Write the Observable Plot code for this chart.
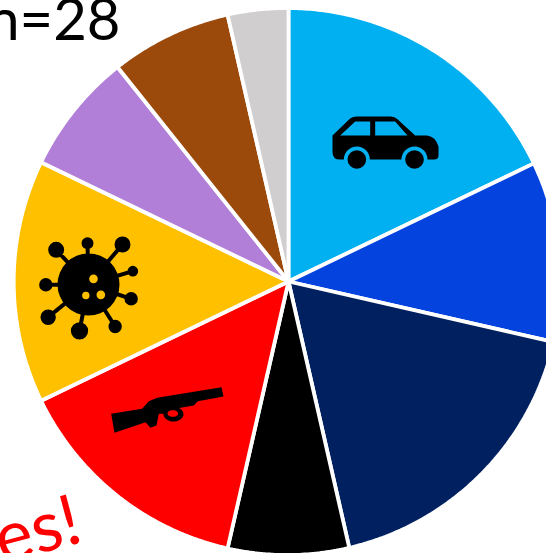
<!DOCTYPE html>
<html>
<head>
<meta charset="utf-8">
<script src="https://cdn.jsdelivr.net/npm/d3@7"></script>
<script src="https://cdn.jsdelivr.net/npm/@observablehq/plot@0.6"></script>
<style>
  html, body { margin: 0; padding: 0; background: #fff; overflow: hidden; }
  svg { display: block; }
</style>
</head>
<body>
<div id="chart"></div>
<script>
// Cases per category, clockwise from twelve o'clock (n = 28)
const categories = ["Vehicle", "Blue", "Navy", "Black", "Firearm", "Virus", "Purple", "Brown", "Gray"];
const counts = [5, 3, 5, 2, 4, 4, 2, 2, 1];
const colors = ["#00B0F0", "#0443DE", "#002060", "#000000", "#FF0000", "#FFC000", "#B17FD8", "#9C4A0B", "#D0CECE"];
const totalLabel = "n=28";
const noteLabel = "es!";

const W = 546, H = 553;
const CX = 288, CY = 281, R = 273.5, SHIFT = 1.3;

// Slice outlines: sampled arc plus the pie centre, one closed polygon per category.
// The rim sits slightly left of the hub, so the radius varies a little with the angle.
const arcs = d3.pie().sort(null).value((d, i) => counts[i])(categories);
const outline = arcs.flatMap((a) => {
  const steps = Math.max(2, Math.ceil((a.endAngle - a.startAngle) / 0.01));
  const rim = d3.range(steps + 1).map((i) => {
    const t = a.startAngle + (a.endAngle - a.startAngle) * i / steps;
    const r = R - SHIFT * Math.sin(t);
    return {category: a.data, x: CX + r * Math.sin(t), y: CY - r * Math.cos(t)};
  });
  return [{category: a.data, x: CX, y: CY}, ...rim];
});

// Glyphs are authored on a 3x grid around their own origin
const glyph = (ox, oy, fn) => ({
  draw(ctx) {
    const X = (v) => (v - ox) / 3, Y = (v) => (v - oy) / 3;
    fn({
      poly(pts) {
        pts.forEach(([x, y], i) => (i ? ctx.lineTo(X(x), Y(y)) : ctx.moveTo(X(x), Y(y))));
        ctx.closePath();
      },
      disc(x, y, r) {
        ctx.moveTo(X(x) + r / 3, Y(y));
        ctx.arc(X(x), Y(y), r / 3, 0, 2 * Math.PI);
        ctx.closePath();
      },
      oval(x, y, rx, ry) {
        d3.range(40).forEach((i) => {
          const t = i / 40 * 2 * Math.PI;
          const px = X(x + rx * Math.cos(t)), py = Y(y + ry * Math.sin(t));
          i ? ctx.lineTo(px, py) : ctx.moveTo(px, py);
        });
        ctx.closePath();
      },
      raw: ctx, X, Y
    });
  }
});

const carBody = glyph(256, 150, ({raw: c, X, Y}) => {
  c.moveTo(X(97), Y(135));
  c.lineTo(X(150), Y(84));
  c.quadraticCurveTo(X(158), Y(78), X(170), Y(78));
  c.lineTo(X(272), Y(78));
  c.quadraticCurveTo(X(284), Y(78), X(292), Y(86));
  c.lineTo(X(345), Y(135));
  c.lineTo(X(380), Y(135));
  c.quadraticCurveTo(X(405), Y(137), X(415), Y(168));
  c.lineTo(X(415), Y(195));
  c.quadraticCurveTo(X(415), Y(207), X(402), Y(207));
  c.lineTo(X(120), Y(207));
  c.quadraticCurveTo(X(97), Y(207), X(97), Y(185));
  c.closePath();
});
const carCut = glyph(256, 150, ({poly, disc}) => {
  poly([[120, 135], [165, 93], [210, 93], [210, 135]]);
  poly([[225, 93], [285, 93], [322, 135], [225, 135]]);
  disc(170, 207, 39);
  disc(343, 207, 39);
});
const carWheels = glyph(256, 150, ({disc}) => {
  disc(170, 207, 28);
  disc(343, 207, 28);
});

const hub = [205, 192];
const knobs = [[108, 88, 24], [202, 68, 18], [307, 72, 24], [338, 152, 16], [333, 235, 20],
               [285, 318, 20], [178, 331, 26], [84, 290, 23], [77, 193, 20]];
const virusBody = glyph(205, 192, ({poly, disc}) => {
  disc(hub[0], hub[1], 93);
  knobs.forEach(([x, y, r]) => {
    const len = Math.hypot(x - hub[0], y - hub[1]);
    const nx = (y - hub[1]) / len * 6, ny = -(x - hub[0]) / len * 6;
    poly([[hub[0] + nx, hub[1] + ny], [x + nx, y + ny], [x - nx, y - ny], [hub[0] - nx, hub[1] - ny]]);
    disc(x, y, r);
  });
});
const virusHoles = glyph(205, 192, ({disc}) => {
  disc(220, 175, 13);
  disc(197, 225, 11);
  disc(242, 223, 13);
});

const gunBody = glyph(225, 120, ({poly, oval}) => {
  poly([[62, 130], [155, 115], [175, 92], [200, 82], [393, 50], [399, 78], [322, 92], [310, 105],
        [270, 112], [232, 130], [205, 130], [198, 165], [180, 172], [165, 155], [72, 187]]);
  oval(249, 131, 30, 22);
});
const gunGuard = glyph(225, 120, ({oval}) => {
  oval(247, 129, 16, 10);
});

// Each icon layer is a dot whose symbol is the glyph above
const icon = (x, y, symbol, fill) =>
  Plot.dot([{x, y}], {x: "x", y: "y", symbol, fill, stroke: "none"});

const plot = Plot.plot({
  width: W,
  height: H,
  margin: 0,
  style: {background: "#fff", overflow: "hidden"},
  x: {domain: [0, W], range: [0, W], axis: null},
  y: {domain: [0, H], range: [0, H], axis: null},
  color: {domain: categories, range: colors},
  marks: [
    Plot.line(outline, {
      x: "x", y: "y", z: "category", fill: "category",
      stroke: "#fff", strokeWidth: 3.8, curve: "linear-closed", strokeLinejoin: "miter"
    }),
    icon(385, 140, carBody, "#000"),
    icon(385, 140, carCut, "#00B0F0"),
    icon(385, 140, carWheels, "#000"),
    icon(88, 284, virusBody, "#000"),
    icon(88, 284, virusHoles, "#FFC000"),
    icon(165, 410, gunBody, "#000"),
    icon(165, 410, gunGuard, "#FF0000"),
    Plot.text([totalLabel], {
      text: (d) => d, frameAnchor: "top-left", dx: 120, dy: -2,
      textAnchor: "end", fontFamily: "Lato", fontSize: 58, fill: "#000"
    }),
    Plot.text([noteLabel], {
      text: (d) => d, frameAnchor: "top-left", dx: 30, dy: 504,
      textAnchor: "middle", rotate: -15, fontFamily: "Lato", fontSize: 70, fill: "#FF0000"
    })
  ]
});
document.getElementById("chart").appendChild(plot);
</script>
</body>
</html>
